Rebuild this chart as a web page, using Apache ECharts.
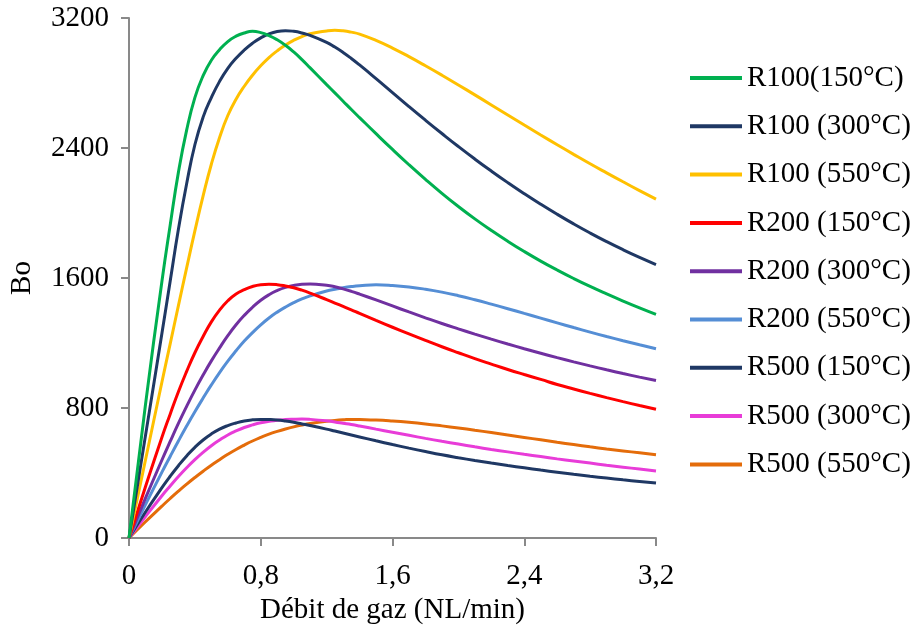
<!DOCTYPE html>
<html>
<head>
<meta charset="utf-8">
<script src="https://cdn.jsdelivr.net/npm/echarts@6/dist/echarts.min.js"></script>
<style>
html,body{margin:0;padding:0;background:#fff;}
#c{width:917px;height:637px;}
</style>
</head>
<body>
<div id="c"></div>
<script>
var xs = [0, 0.1, 0.2, 0.25, 0.3, 0.35, 0.4, 0.45, 0.5, 0.55, 0.6, 0.65, 0.7, 0.75, 0.8, 0.85, 0.9, 0.95, 1.0, 1.05, 1.1, 1.2, 1.25, 1.3, 1.35, 1.4, 1.5, 1.6, 1.7, 1.8, 1.9, 2.0, 2.1, 2.2, 2.3, 2.4, 2.5, 2.6, 2.7, 2.8, 2.9, 3.0, 3.1, 3.2];
var xTicks = ['0', '0,8', '1,6', '2,4', '3,2'];
var yTicks = [0, 800, 1600, 2400, 3200];
var names = ['R100(150°C)', 'R100 (300°C)', 'R100 (550°C)', 'R200 (150°C)', 'R200 (300°C)', 'R200 (550°C)', 'R500 (150°C)', 'R500 (300°C)', 'R500 (550°C)'];
var r100_150 = [0, 820, 1580, 1925, 2250, 2510, 2710, 2845, 2940, 3005, 3055, 3088, 3108, 3118, 3110, 3092, 3066, 3032, 2991, 2944, 2893, 2790, 2739, 2688, 2637, 2587, 2488, 2391, 2297, 2207, 2121, 2040, 1964, 1893, 1826, 1763, 1704, 1649, 1597, 1548, 1502, 1458, 1416, 1376];
var r100_300 = [0, 630, 1260, 1580, 1900, 2180, 2420, 2590, 2710, 2810, 2890, 2952, 3003, 3045, 3078, 3102, 3117, 3122, 3118, 3108, 3093, 3050, 3021, 2988, 2951, 2911, 2827, 2741, 2655, 2571, 2489, 2409, 2332, 2258, 2187, 2119, 2054, 1992, 1933, 1877, 1824, 1774, 1727, 1683];
var r100_550 = [0, 480, 960, 1195, 1430, 1662, 1890, 2105, 2300, 2465, 2600, 2700, 2780, 2848, 2906, 2956, 2998, 3034, 3063, 3086, 3103, 3120, 3124, 3121, 3113, 3101, 3062, 3015, 2962, 2906, 2848, 2788, 2727, 2665, 2603, 2541, 2480, 2420, 2361, 2303, 2247, 2192, 2138, 2085];
var r200_150 = [0, 315, 620, 762, 900, 1025, 1140, 1240, 1330, 1402, 1460, 1502, 1528, 1548, 1559, 1562, 1559, 1551, 1540, 1525, 1507, 1467, 1446, 1425, 1404, 1382, 1339, 1297, 1256, 1216, 1177, 1140, 1104, 1070, 1037, 1006, 976, 945, 917, 890, 864, 839, 815, 792];
var r200_300 = [0, 245, 480, 594, 705, 810, 910, 1003, 1090, 1170, 1245, 1312, 1370, 1420, 1463, 1497, 1523, 1542, 1554, 1561, 1563, 1555, 1546, 1533, 1518, 1501, 1465, 1428, 1391, 1355, 1320, 1287, 1255, 1224, 1194, 1165, 1137, 1110, 1084, 1059, 1035, 1012, 990, 969];
var r200_550 = [0, 205, 405, 502, 597, 689, 777, 861, 942, 1018, 1088, 1152, 1212, 1264, 1312, 1354, 1390, 1421, 1448, 1471, 1490, 1520, 1531, 1540, 1547, 1552, 1558, 1554, 1545, 1531, 1513, 1491, 1466, 1439, 1411, 1382, 1353, 1324, 1295, 1267, 1240, 1214, 1189, 1165];
var r500_150 = [0, 160, 310, 380, 445, 505, 558, 603, 640, 670, 692, 708, 720, 727, 730, 729, 726, 720, 712, 702, 692, 670, 658, 646, 634, 622, 598, 575, 553, 532, 512, 494, 477, 461, 446, 432, 418, 405, 392, 380, 369, 358, 348, 338];
var r500_300 = [0, 132, 260, 320, 378, 432, 482, 527, 568, 603, 634, 659, 680, 696, 709, 718, 725, 729, 731, 732, 730, 721, 714, 706, 698, 689, 670, 651, 632, 613, 595, 578, 561, 545, 530, 515, 501, 487, 474, 461, 448, 436, 424, 412];
var r500_550 = [0, 100, 196, 243, 288, 331, 372, 411, 448, 482, 515, 545, 572, 597, 619, 639, 656, 671, 684, 695, 704, 718, 723, 727, 730, 729, 726, 720, 712, 702, 690, 677, 663, 649, 634, 619, 604, 589, 575, 561, 548, 536, 524, 512];
var allSeries = [r100_150, r100_300, r100_550, r200_150, r200_300, r200_550, r500_150, r500_300, r500_550];
var colors = ['#00B050', '#1F3864', '#FFC000', '#FF0000', '#7030A0', '#558ED5', '#1F3864', '#E83CD8', '#E46C0A'];

var font = 'Liberation Serif';
var chart = echarts.init(document.getElementById('c'), null, {renderer: 'canvas'});
var series = allSeries.map(function (vals, i) {
  return {
    name: names[i],
    type: 'line',
    smooth: 0.5,
    showSymbol: false,
    symbol: 'none',
    lineStyle: {width: 3, color: colors[i]},
    itemStyle: {color: colors[i]},
    data: xs.map(function (x, j) { return [x, vals[j]]; }),
    z: 10 - i
  };
});
chart.setOption({
  animation: false,
  backgroundColor: '#fff',
  color: colors,
  grid: {left: 129, top: 18, width: 527, height: 520, containLabel: false, outerBoundsMode: 'none'},
  legend: {
    orient: 'vertical',
    left: 685,
    top: 58,
    itemWidth: 52,
    itemHeight: 4,
    itemGap: 18.3,
    icon: 'rect',
    textStyle: {fontFamily: font, fontSize: 29, color: '#000', lineHeight: 30},
    data: names
  },
  xAxis: {
    type: 'value',
    min: 0, max: 3.2, interval: 0.8,
    name: 'Débit de gaz (NL/min)',
    nameLocation: 'middle',
    nameGap: 51,
    nameTextStyle: {fontFamily: font, fontSize: 29, color: '#000'},
    axisLine: {lineStyle: {color: '#898989', width: 2}},
    axisTick: {show: true, inside: false, length: 8, lineStyle: {color: '#898989', width: 2}},
    splitLine: {show: false},
    axisLabel: {
      fontFamily: font, fontSize: 29, color: '#000', margin: 24,
      formatter: function (v) {
        var idx = Math.round(v / 0.8);
        return xTicks[idx];
      }
    }
  },
  yAxis: {
    type: 'value',
    min: 0, max: 3200, interval: 800,
    name: 'Bo',
    nameLocation: 'middle',
    nameGap: 92,
    nameTextStyle: {fontFamily: font, fontSize: 29, color: '#000'},
    axisLine: {show: true, lineStyle: {color: '#898989', width: 2}},
    axisTick: {show: true, inside: false, length: 8, lineStyle: {color: '#898989', width: 2}},
    splitLine: {show: false},
    axisLabel: {
      fontFamily: font, fontSize: 29, color: '#000', margin: 20,
      formatter: function (v) {
        var idx = Math.round(v / 800);
        return String(yTicks[idx]);
      }
    }
  },
  series: series
});
</script>
</body>
</html>
